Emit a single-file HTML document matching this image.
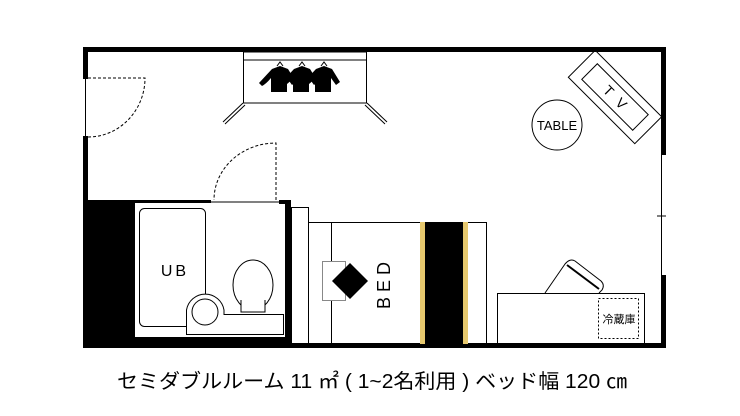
<!DOCTYPE html>
<html><head><meta charset="utf-8"><style>
html,body{margin:0;padding:0;background:#fff;width:740px;height:416px;overflow:hidden}
</style></head><body>
<svg width="740" height="416" viewBox="0 0 740 416" xmlns="http://www.w3.org/2000/svg" font-family="Liberation Sans, Noto Sans CJK JP, sans-serif">
<rect x="83" y="47" width="583" height="5" fill="#000"/>
<rect x="83" y="47" width="5" height="32" fill="#000"/>
<rect x="83" y="136" width="5" height="212" fill="#000"/>
<line x1="85.5" y1="79" x2="85.5" y2="136" stroke="#000" stroke-width="1"/>
<rect x="661" y="47" width="5" height="108" fill="#000"/>
<line x1="661.5" y1="155" x2="661.5" y2="275" stroke="#000" stroke-width="1"/>
<line x1="657" y1="216" x2="666" y2="216" stroke="#000" stroke-width="1"/>
<rect x="661" y="275" width="5" height="73" fill="#000"/>
<rect x="83" y="343" width="583" height="5" fill="#000"/>
<path d="M88 78 H145 A57 59 0 0 1 88 137" fill="none" stroke="#000" stroke-width="1" stroke-dasharray="3,2"/>
<rect x="243.5" y="52" width="123" height="51" fill="none" stroke="#000" stroke-width="1"/>
<line x1="243" y1="60" x2="367" y2="60" stroke="#000" stroke-width="1"/>
<path d="M243 103 L223 122 M245 105 L225 124" stroke="#000" stroke-width="1" fill="none"/>
<path d="M367 103 L387 122 M365 105 L385 124" stroke="#000" stroke-width="1" fill="none"/>
<g fill="#000">
<g id="sh">
<path d="M272 69 L280 66 L288 69 L296 82 L292 85 L287 78 L287 92 L271 92 L271 78 Q266 84 262 86 L259 83 Z"/>
<path d="M277 66 L280 62 L283 66" stroke="#000" fill="none" stroke-width="1"/>
</g>
<use href="#sh" x="22"/>
<use href="#sh" x="44"/>
</g>
<g transform="translate(615,97) rotate(45)">
<rect x="-47" y="-19" width="94" height="38" fill="none" stroke="#000" stroke-width="1"/>
<rect x="-36" y="-11" width="72" height="22" fill="none" stroke="#000" stroke-width="1"/>
<text x="-9" y="5" font-size="14" text-anchor="middle">T</text>
<text x="9" y="5" font-size="14" text-anchor="middle">V</text>
</g>
<circle cx="557" cy="125" r="25" fill="none" stroke="#000" stroke-width="1"/>
<text x="557" y="130" font-size="13" text-anchor="middle">TABLE</text>
<rect x="83" y="200" width="128" height="3" fill="#000"/>
<rect x="83" y="200" width="52" height="148" fill="#000"/>
<rect x="279" y="200" width="12" height="4" fill="#000"/>
<rect x="285" y="200" width="6" height="148" fill="#000"/>
<rect x="83" y="337" width="208" height="11" fill="#000"/>
<line x1="211" y1="202" x2="279" y2="202" stroke="#000" stroke-width="1"/>
<path d="M276 200 V143 A62 57 0 0 0 214 200" fill="none" stroke="#000" stroke-width="1" stroke-dasharray="3,2"/>
<rect x="139.5" y="208.5" width="66" height="118" rx="5" fill="none" stroke="#000" stroke-width="1"/>
<text x="175" y="276" font-size="16" text-anchor="middle" letter-spacing="3">UB</text>
<ellipse cx="253" cy="285" rx="20" ry="25" fill="#fff" stroke="#000" stroke-width="1"/>
<rect x="241" y="300" width="24" height="14" fill="#fff" stroke="none"/>
<path d="M241 300 V312 H265 V300" fill="none" stroke="#000" stroke-width="1"/>
<path d="M186.5 334.5 V310 A19 19 0 0 1 224 310 V314.5 H283.5 V334.5 Z" fill="#fff" stroke="#000" stroke-width="1"/>
<circle cx="205" cy="312" r="13" fill="none" stroke="#000" stroke-width="1"/>
<rect x="291.5" y="207.5" width="17" height="136" fill="none" stroke="#000" stroke-width="1"/>
<rect x="308.5" y="222.5" width="178" height="121" fill="none" stroke="#000" stroke-width="1"/>
<line x1="331.5" y1="222" x2="331.5" y2="343" stroke="#000" stroke-width="1"/>
<rect x="322.5" y="261.5" width="23" height="39" fill="#fff" stroke="#888" stroke-width="1"/>
<path d="M350 263 L368 281 L350 299 L332 281 Z" fill="#000"/>
<text transform="translate(390,283) rotate(-90)" font-size="18" text-anchor="middle" letter-spacing="5">BED</text>
<rect x="420" y="222" width="48" height="122" fill="#000"/>
<rect x="420" y="222" width="5" height="122" fill="#e6c86e"/>
<rect x="463" y="222" width="5" height="122" fill="#e6c86e"/>
<rect x="497.5" y="293.5" width="147" height="50" fill="#fff" stroke="#000" stroke-width="1"/>
<rect x="598.5" y="298.5" width="40" height="40" fill="none" stroke="#000" stroke-width="1" stroke-dasharray="2,2"/>
<text x="619" y="323" font-size="11" text-anchor="middle" font-family="Noto Sans CJK JP, sans-serif">冷蔵庫</text>
<path d="M545 293 L565 264 Q570 258 575 261 L601 281 Q605 285 602 290 L599 293" fill="none" stroke="#000" stroke-width="1"/>
<line x1="567" y1="265" x2="599" y2="289" stroke="#000" stroke-width="2"/>
<text x="117" y="388" font-size="20" textLength="510" lengthAdjust="spacingAndGlyphs" font-family="Liberation Sans, Noto Sans CJK JP, sans-serif">セミダブルルーム 11 ㎡ (  1~2名利用  )  ベッド幅 120 ㎝</text>
</svg>
</body></html>
